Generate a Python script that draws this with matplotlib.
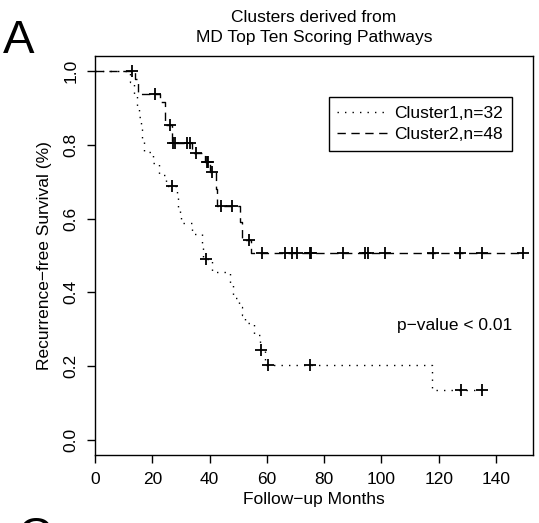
#!/usr/bin/env python3
# -*- coding: utf-8 -*-
"""
Kaplan-Meier style plot: clusters from MD top ten scoring pathways
"""

import numpy as np
import matplotlib
matplotlib.use("Agg")
import matplotlib.pyplot as plt

plt.rcParams['font.family'] = ['Liberation Sans', 'DejaVu Sans']

# Cluster1 (dotted): step times and survival level after each step
c1_times = [0, 12.2, 13.5, 14.5, 15.3, 16.0, 16.5, 17.0, 20.3, 22.4, 24.8,
            28.5, 29.0, 29.5, 30.0, 33.8, 37.2, 37.7, 40.9, 47.1, 48.0,
            50.4, 51.2, 52.4, 55.5, 57.5, 59.5, 117.7]
c1_surv = [1.0, 0.969, 0.938, 0.906, 0.875, 0.844, 0.813, 0.781, 0.750,
           0.719, 0.688, 0.656, 0.625, 0.607, 0.589, 0.557, 0.525, 0.490,
           0.456, 0.420, 0.384, 0.361, 0.339, 0.316, 0.285, 0.244, 0.203,
           0.136]
c1_end = 135.0
c1_censor = [26.9, 38.8, 58.0, 60.4, 75.1, 127.8, 135.0]

# Cluster2 (dashed)
c2_times = [0, 14.0, 15.0, 22.7, 24.4, 26.9, 33.9, 38.4, 40.2, 42.2, 42.6,
            50.6, 51.3, 54.5]
c2_surv = [1.0, 0.979, 0.938, 0.917, 0.854, 0.805, 0.778, 0.753, 0.726,
           0.680, 0.634, 0.590, 0.542, 0.507]
c2_end = 149.5
c2_censor = [13.0, 21.0, 26.2, 27.2, 28.0, 32.1, 33.2, 35.3, 39.1, 39.5,
             40.9, 44.0, 47.8, 53.8, 58.2, 66.3, 68.6, 70.4, 75.1, 75.4,
             86.7, 94.3, 95.4, 101.3, 118.1, 127.4, 135.0, 149.5]

labels = ['Cluster1,n=32', 'Cluster2,n=48']
xticks = [0, 20, 40, 60, 80, 100, 120, 140]
yticks = [0.0, 0.2, 0.4, 0.6, 0.8, 1.0]


def surv_at(times, surv, t):
    idx = np.searchsorted(times, t, side='right') - 1
    return np.array(surv)[idx]


FS = 12.5
fig = plt.figure(figsize=(5.39, 5.23), dpi=100)
W, H = 539, 523
ax = fig.add_axes([95 / W, (H - 455) / H, (533 - 95) / W, (455 - 56) / H])

styles = [dict(dashes=(1.0, 4.4)), dict(dashes=(6.0, 4.0))]
curves = [(c1_times, c1_surv, c1_end, c1_censor),
          (c2_times, c2_surv, c2_end, c2_censor)]

handles = []
for (t, s, end, cens), st, lab in zip(curves, styles, labels):
    tt = list(t) + [end]
    ss = list(s) + [s[-1]]
    ln, = ax.step(tt, ss, where='post', color='black', lw=1.0, **st, label=lab)
    handles.append(ln)
    cy = surv_at(t, s, np.array(cens))
    ax.plot(cens, cy, linestyle='none', marker='+', color='black',
            markersize=8, markeredgewidth=1.3)

ax.set_xlim(0, 152.9)
ax.set_ylim(-0.0407, 1.0407)
ax.set_xticks(xticks)
ax.set_yticks(yticks)
ax.set_xticklabels([str(x) for x in xticks], fontsize=FS)
ax.set_yticklabels(['%.1f' % y for y in yticks], fontsize=FS,
                   rotation=90, va='center')
ax.tick_params(direction='out', length=6, width=1, pad=6)
for sp in ax.spines.values():
    sp.set_linewidth(1.0)

ax.set_xlabel('Follow\u2212up Months', fontsize=FS, labelpad=4)
ax.set_ylabel('Recurrence\u2212free Survival (%)', fontsize=FS, labelpad=8)
ax.set_title('Clusters derived from\nMD Top Ten Scoring Pathways',
             fontsize=FS, pad=10, linespacing=1.45)

leg = ax.legend(handles=handles, loc='upper right',
                bbox_to_anchor=((512 - 95) / 438, (455 - 97) / 399),
                fontsize=FS, frameon=True, fancybox=False,
                edgecolor='black', framealpha=1, handlelength=3.0,
                borderpad=0.5, labelspacing=0.35, handletextpad=0.3,
                borderaxespad=0)
leg.get_frame().set_linewidth(1.0)

ax.text(125.7, 0.31, 'p\u2212value < 0.01', fontsize=FS,
        ha='center', va='center')

fig.text(3 / W, 1 - 41 / H, 'A', fontsize=34, ha='left', va='center')
fig.text(18 / W, 1 - 538 / H, 'C', fontsize=34, ha='left', va='center')

plt.savefig('out.png', dpi=100)
plt.close()
